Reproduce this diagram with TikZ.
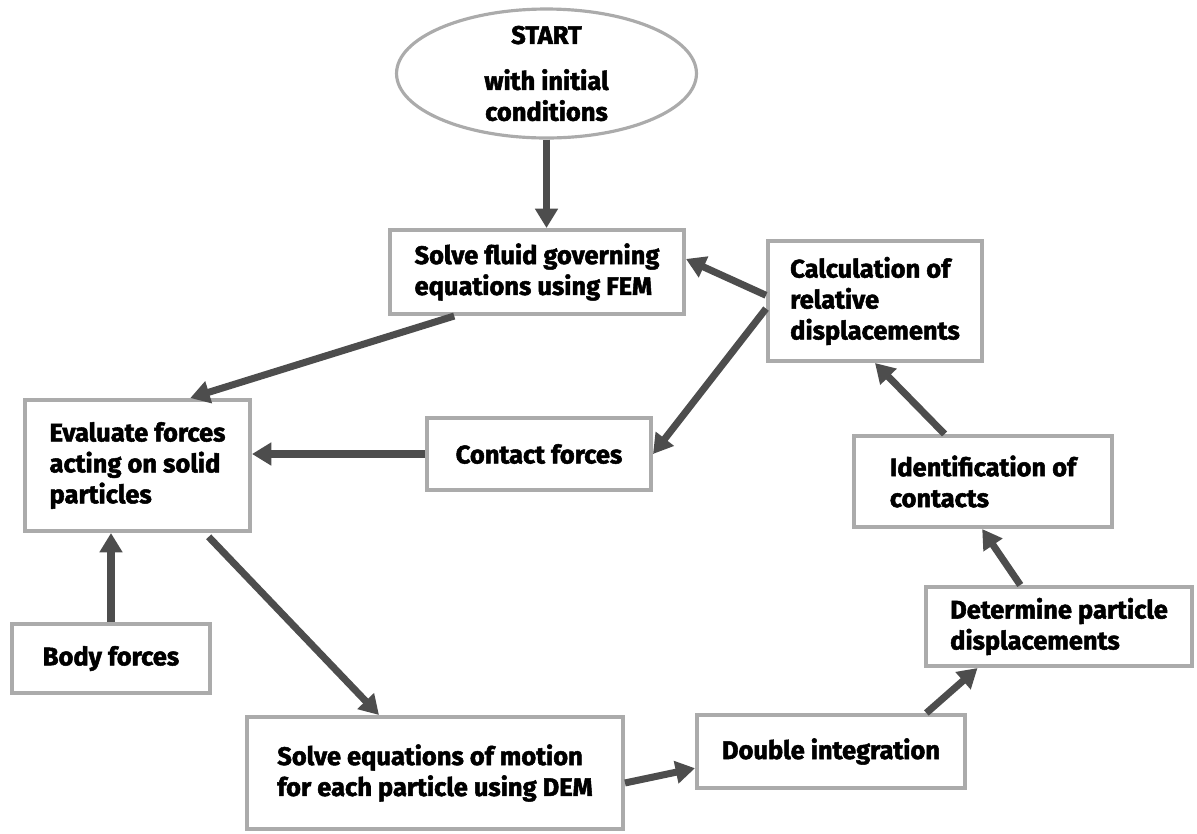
\documentclass[tikz,border=0pt]{standalone}
\usepackage{fontspec}
\setmainfont{Fira Sans}[BoldFeatures={FakeBold=2}]
\usetikzlibrary{arrows.meta,shapes.geometric}
\definecolor{arrowgray}{HTML}{4D4D4D}
\definecolor{boxgray}{HTML}{ABABAB}
\begin{document}
\begin{tikzpicture}
    [x=0.02cm,y=-0.02cm,
     post/.style={->,>={Triangle[width=12.5pt,length=11pt]},line width=4pt,draw=arrowgray},
     stage/.style={shape=rectangle,draw=boxgray,line width=2.3pt,fill=white,align=left,
       font=\bfseries\fontsize{14.5}{17.6}\selectfont}]
    \useasboundingbox (0,0) rectangle (1197,833);
    \node [stage,shape=ellipse,line width=1.8pt,align=center,inner sep=0pt,inner ysep=-0.4cm,
      minimum width=6cm,minimum height=2.58cm] (start) at (546.5,73.5)
      {START\\[0.3cm]with initial\\conditions};
    \node [stage,minimum width=5.88cm,minimum height=1.68cm] (fem) at (537,272)
      {Solve fluid governing\\equations using FEM};
    \node [stage,minimum width=4.28cm,minimum height=2.4cm] (calc) at (875,301)
      {Calculation of\\relative\\displacements};
    \node [stage,minimum width=4.5cm,minimum height=2.62cm] (eval) at (137.5,465.5)
      {Evaluate forces\\acting on solid\\particles};
    \node [stage,minimum width=4.48cm,minimum height=1.44cm] (contact) at (539,454)
      {Contact forces};
    \node [stage,minimum width=5.16cm,minimum height=1.82cm] (ident) at (983,481.5)
      {Identification of\\contacts};
    \node [stage,minimum width=3.96cm,minimum height=1.38cm] (body) at (111,658.5)
      {Body forces};
    \node [stage,minimum width=5.32cm,minimum height=1.58cm] (determine) at (1059,626.5)
      {Determine particle\\displacements};
    \node [stage,minimum width=5.36cm,minimum height=1.46cm] (double) at (831,751.5)
      {Double integration};
    \node [stage,minimum width=7.52cm,minimum height=2.24cm] (motion) at (435,773)
      {Solve equations of motion\\for each particle using DEM};
    \draw [post] (start.south) -- (start.south |- fem.north);
    \draw [post] (fem.208) -- (eval.52);
    \draw [post] (calc.177) -- (fem.5);
    \draw [post] (calc.184) -- (contact.east);
    \draw [post] (contact.west) -- (contact.west -| eval.east);
    \draw [post] (body.north) -- (body.north |- eval.south);
    \draw [post,shorten <=3pt] (eval.-45) -- (motion.134);
    \draw [post] (motion.-3) -- (double.187);
    \draw [post] (double.22) -- (determine.207);
    \draw [post] (determine.133) -- (ident.-91);
    \draw [post] (ident.129) -- (calc.south);
  \end{tikzpicture}
\end{document}
